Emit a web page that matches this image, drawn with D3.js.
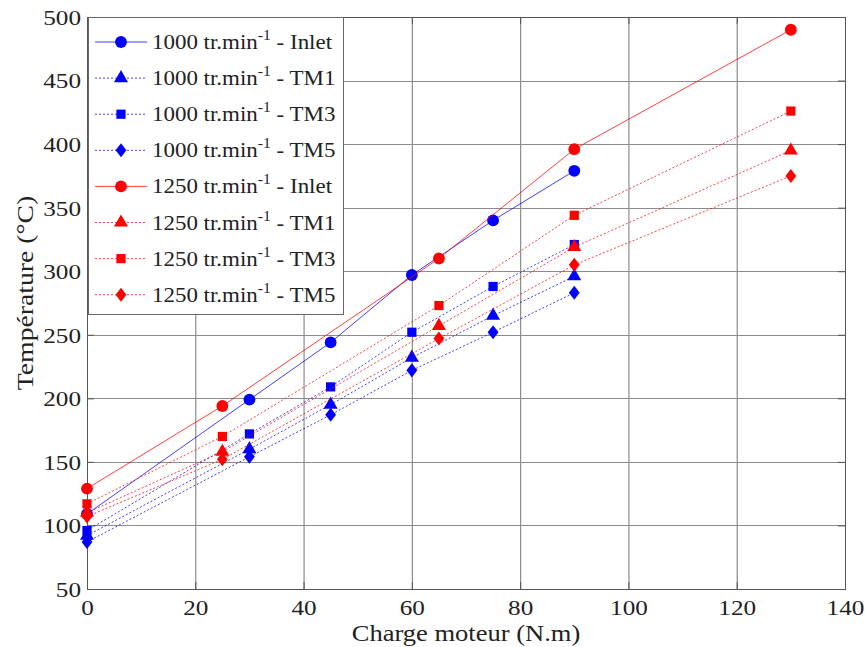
<!DOCTYPE html>
<html><head><meta charset="utf-8">
<script src="https://cdn.jsdelivr.net/npm/d3@7"></script>
<style>body{margin:0;background:#fff}</style>
</head><body><svg id="c" width="865" height="647"></svg>
<script>
const xTicks = [0,20,40,60,80,100,120,140];
const yTicks = [50,100,150,200,250,300,350,400,450,500];
const x1000 = [0,30,45,60,75,90];
const x1250 = [0,25,65,90,130];
const inlet1000 = [109,199,244,297,340,379];
const tm1_1000  = [92,160,195,232,265,296];
const tm3_1000  = [96,172,209,252,288,321];
const tm5_1000  = [87,154,187,222,252,283];
const inlet1250 = [129,194,310,396,490];
const tm1_1250  = [110,158,257,319,395];
const tm3_1250  = [117,170,273,344,426];
const tm5_1250  = [107,152,247,305,375];
const seriesNames = ["1000 tr.min|-1| - Inlet","1000 tr.min|-1| - TM1","1000 tr.min|-1| - TM3","1000 tr.min|-1| - TM5",
                     "1250 tr.min|-1| - Inlet","1250 tr.min|-1| - TM1","1250 tr.min|-1| - TM3","1250 tr.min|-1| - TM5"];
const xLabel = "Charge moteur (N.m)";
const yLabel = "Température (°C)";

const series = [
  {name:seriesNames[0], xs:x1000, ys:inlet1000, color:"#0000ff", sym:"circle", solid:true},
  {name:seriesNames[1], xs:x1000, ys:tm1_1000, color:"#0000ff", sym:"triangle", solid:false},
  {name:seriesNames[2], xs:x1000, ys:tm3_1000, color:"#0000ff", sym:"square", solid:false},
  {name:seriesNames[3], xs:x1000, ys:tm5_1000, color:"#0000ff", sym:"diamond", solid:false},
  {name:seriesNames[4], xs:x1250, ys:inlet1250, color:"#ff0000", sym:"circle", solid:true},
  {name:seriesNames[5], xs:x1250, ys:tm1_1250, color:"#ff0000", sym:"triangle", solid:false},
  {name:seriesNames[6], xs:x1250, ys:tm3_1250, color:"#ff0000", sym:"square", solid:false},
  {name:seriesNames[7], xs:x1250, ys:tm5_1250, color:"#ff0000", sym:"diamond", solid:false}
];

const L=87, R=845, T=17, B=589;
const x = d3.scaleLinear().domain([0,140]).range([L,R]);
const y = d3.scaleLinear().domain([50,500]).range([B,T]);
const svg = d3.select("#c");
const FONT = "'Liberation Serif','Times New Roman',serif";
const SX = 1.12;
const TSX = 1.2;

// grid
const grid = svg.append("g");
xTicks.forEach(t=>{ if(t>0&&t<140) grid.append("line").attr("x1",x(t)+0.5).attr("x2",x(t)+0.5).attr("y1",T).attr("y2",B).attr("stroke","#8c8c8c").attr("stroke-width",1.2); });
yTicks.forEach(t=>{ if(t>50&&t<500) grid.append("line").attr("x1",L).attr("x2",R).attr("y1",Math.round(y(t))+0.5).attr("y2",Math.round(y(t))+0.5).attr("stroke","#8c8c8c").attr("stroke-width",1.2); });

// axes with D3 axis generators
const ax = svg.append("g").attr("transform",`translate(0,${B})`)
  .call(d3.axisBottom(x).tickValues(xTicks).tickSizeInner(-7).tickSizeOuter(0).tickFormat(d3.format("d")));
const axT = svg.append("g").attr("transform",`translate(0,${T})`)
  .call(d3.axisTop(x).tickValues(xTicks).tickSizeInner(-7).tickSizeOuter(0).tickFormat(""));
const ay = svg.append("g").attr("transform",`translate(${L},0)`)
  .call(d3.axisLeft(y).tickValues(yTicks).tickSizeInner(-7).tickSizeOuter(0).tickFormat(d3.format("d")));
const ayR = svg.append("g").attr("transform",`translate(${R},0)`)
  .call(d3.axisRight(y).tickValues(yTicks).tickSizeInner(-7).tickSizeOuter(0).tickFormat(""));
[ax,axT,ay,ayR].forEach(g=>{ g.select(".domain").remove(); g.selectAll("line").attr("stroke","#555"); });
ax.selectAll("text").attr("font-family",FONT).attr("font-size",21).attr("fill","#222").attr("dy",0).attr("y",26);
ay.selectAll("text").attr("font-family",FONT).attr("font-size",21).attr("fill","#222").attr("x",-5).attr("dy","0.35em");
ax.selectAll(".tick text").attr("transform",`scale(${TSX},1)`);
ay.selectAll(".tick text").attr("transform",`scale(${TSX},1)`);
svg.append("rect").attr("x",L+0.5).attr("y",T+0.5).attr("width",R-L).attr("height",B-T).attr("fill","none").attr("stroke","#555").attr("stroke-width",1);

// axis titles
svg.append("g").attr("transform",`translate(466,641) scale(${SX*1.03},1)`).append("text")
  .attr("text-anchor","middle").attr("font-family",FONT).attr("font-size",23).attr("fill","#222").text(xLabel);
svg.append("g").attr("transform",`translate(33,293) rotate(-90) scale(${SX*1.03},1)`).append("text")
  .attr("text-anchor","middle").attr("font-family",FONT).attr("font-size",24).attr("fill","#222").text(yLabel);

// symbols
const symType = {circle:d3.symbolCircle, triangle:d3.symbolTriangle, square:d3.symbolSquare, diamond:d3.symbolDiamond};
const symSize = {circle:110, triangle:85, square:85, diamond:70};
function drawSym(g, s, cx, cy){
  g.append("path").attr("d", d3.symbol().type(symType[s.sym]).size(symSize[s.sym])())
   .attr("transform",`translate(${cx},${cy})`+(s.sym==="diamond"?" scale(1.2,0.9)":"")).attr("fill",s.color).attr("stroke","none");
}
const line = d3.line().x(d=>x(d[0])).y(d=>y(d[1]));
const plot = svg.append("g");
series.forEach(s=>{
  const pts = s.xs.map((v,i)=>[v,s.ys[i]]);
  plot.append("path").attr("d",line(pts)).attr("fill","none").attr("stroke",s.color)
    .attr("stroke-width",1).attr("stroke-opacity",0.75).attr("stroke-dasharray",s.solid?null:"2,2");
  pts.forEach(p=>drawSym(plot,s,x(p[0]),y(p[1])));
});

// legend
const lg = svg.append("g");
lg.append("rect").attr("x",88.5).attr("y",17.5).attr("width",255).attr("height",297).attr("fill","#fff").attr("stroke","#666");
series.forEach((s,i)=>{
  const cy = 42 + i*36.1;
  lg.append("line").attr("x1",95).attr("x2",147).attr("y1",cy).attr("y2",cy).attr("stroke",s.color)
    .attr("stroke-width",1).attr("stroke-opacity",0.75).attr("stroke-dasharray",s.solid?null:"2,2");
  drawSym(lg,s,121,cy);
  const parts = s.name.split("|");
  const t = lg.append("g").attr("transform",`translate(152,${cy+7}) scale(${SX},1)`).append("text")
    .attr("font-family",FONT).attr("font-size",20.5).attr("fill","#222");
  t.append("tspan").text(parts[0]);
  t.append("tspan").attr("font-size",14).attr("dy",-9).text(parts[1]);
  t.append("tspan").attr("dy",9).text(parts[2]);
});
</script></body></html>
